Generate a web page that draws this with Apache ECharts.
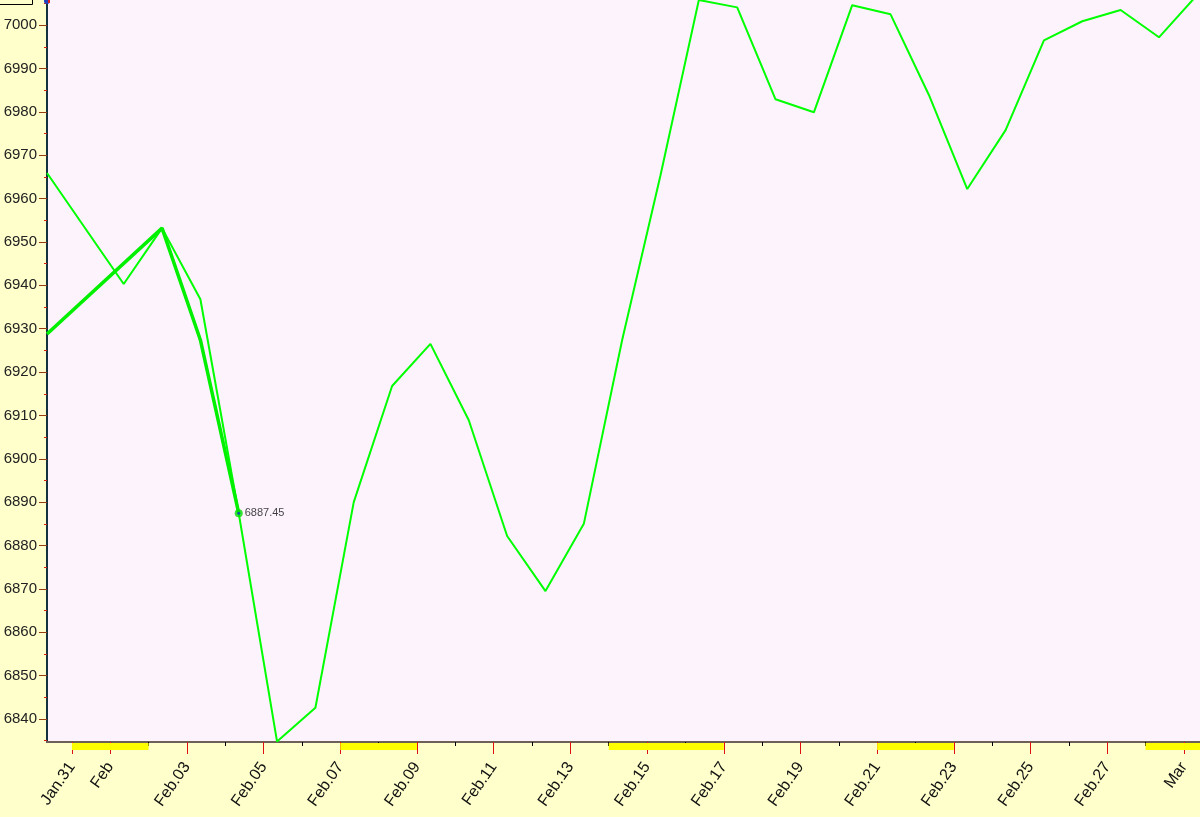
<!DOCTYPE html>
<html><head><meta charset="utf-8">
<script src="https://cdn.jsdelivr.net/npm/echarts@6/dist/echarts.min.js"></script>
<style>html,body{margin:0;padding:0;background:#FFFFCC;}#c{width:1200px;height:817px;}</style>
</head><body><div id="c"></div>
<script>
// x in days since Jan.31 00:00
const pointDays = [-0.65, 0.35, 1.35, 2.35, 3.35, 4.35, 5.35, 6.35, 7.35, 8.35, 9.35, 10.35, 11.35, 12.35, 13.35, 14.35, 15.35, 16.35, 17.35, 18.35, 19.35, 20.35, 21.35, 22.35, 23.35, 24.35, 25.35, 26.35, 27.35, 28.35, 29.35];
const mainValues = [6965.9, 6953.1, 6940.3, 6953.2, 6936.8, 6887.45, 6834.8, 6842.6, 6890.0, 6916.8, 6926.5, 6908.9, 6882.2, 6869.5, 6885.0, 6927.4, 6965.4, 7005.8, 7004.1, 6982.9, 6979.9, 7004.6, 7002.5, 6983.9, 6962.2, 6975.8, 6996.5, 7000.9, 7003.5, 6997.2, 7007.0];
const thickDays = [-0.65, 2.35, 3.35, 4.35];
const thickValues = [6928.8, 6953.2, 6927.4, 6887.45];
const markedDay = 4.35;
const markedValue = 6887.45;
const labelDays = [0, 1, 3, 5, 7, 9, 11, 13, 15, 17, 19, 21, 23, 25, 27, 29];
const tickLabels = ['Jan.31', 'Feb', 'Feb.03', 'Feb.05', 'Feb.07', 'Feb.09', 'Feb.11', 'Feb.13', 'Feb.15', 'Feb.17', 'Feb.19', 'Feb.21', 'Feb.23', 'Feb.25', 'Feb.27', 'Mar'];
const minorDays = [2, 4, 6, 8, 10, 12, 14, 16, 18, 20, 22, 24, 26, 28];
const weekendStart = [0, 7, 14, 21, 28];
const weekendEnd = [2, 9, 17, 23, 29.42];
const yLabels = [6840, 6850, 6860, 6870, 6880, 6890, 6900, 6910, 6920, 6930, 6940, 6950, 6960, 6970, 6980, 6990, 7000];
const yMinorTicks = [6835, 6845, 6855, 6865, 6875, 6885, 6895, 6905, 6915, 6925, 6935, 6945, 6955, 6965, 6975, 6985, 6995, 7005];
const X_MIN = -0.65, X_MAX = 29.42, Y_MIN = 6834.7, Y_MAX = 7005.8;

const chart = echarts.init(document.getElementById('c'), null, {renderer: 'canvas'});
const labelMap = {};
labelDays.forEach((d, i) => labelMap[d] = tickLabels[i]);
const font = 'Liberation Sans, Arial, sans-serif';

chart.setOption({
  animation: false,
  backgroundColor: '#FFFFCC',
  grid: {left: 47, right: 0, top: 0, bottom: 75, show: true, backgroundColor: '#FCF3FC', borderWidth: 0,
    containLabel: false, outerBoundsMode: 'none'},
  xAxis: [{
    type: 'value', min: X_MIN, max: X_MAX, position: 'bottom',
    axisLine: {show: true, onZero: false, lineStyle: {color: '#6e6058', width: 2}},
    axisTick: {show: true, length: 12, customValues: labelDays, lineStyle: {color: '#e01010', width: 1}},
    axisLabel: {customValues: labelDays, rotate: 55, margin: 22, fontSize: 16, color: '#111', fontFamily: font,
      padding: [12, 0, 0, 0], hideOverlap: false, formatter: v => labelMap[v] || ''},
    splitLine: {show: false}
  }, {
    type: 'value', min: X_MIN, max: X_MAX, position: 'bottom', gridIndex: 0,
    axisLine: {show: false, onZero: false},
    axisTick: {show: true, length: 4, customValues: minorDays, lineStyle: {color: '#000', width: 1}},
    axisLabel: {show: false},
    splitLine: {show: false}
  }],
  yAxis: [{
    type: 'value', min: Y_MIN, max: Y_MAX, position: 'left',
    axisLine: {show: true, onZero: false, lineStyle: {color: '#14323e', width: 2}},
    axisTick: {show: true, length: 8, customValues: yLabels, lineStyle: {color: '#9a3a10', width: 1}},
    axisLabel: {customValues: yLabels, margin: 10, fontSize: 15, color: '#222', fontFamily: font,
      formatter: v => String(v)},
    splitLine: {show: false}
  }, {
    type: 'value', min: Y_MIN, max: Y_MAX, position: 'left',
    axisLine: {show: false, onZero: false},
    axisTick: {show: true, length: 3, customValues: yMinorTicks, lineStyle: {color: '#d02010', width: 1}},
    axisLabel: {show: false},
    splitLine: {show: false}
  }],
  series: [{
    type: 'custom', xAxisIndex: 0, yAxisIndex: 0, clip: false, silent: true, z: 1,
    encode: {x: [0, 1], y: 2},
    data: weekendStart.map((s, i) => [s, weekendEnd[i], Y_MIN]),
    renderItem: (params, api) => {
      const p1 = api.coord([api.value(0), api.value(2)]);
      const p2 = api.coord([api.value(1), api.value(2)]);
      return {type: 'rect', shape: {x: p1[0], y: p1[1] + 1, width: p2[0] - p1[0], height: 7}, style: {fill: '#FFFF00'}};
    }
  }, {
    type: 'line', xAxisIndex: 0, yAxisIndex: 0, showSymbol: false, symbol: 'none',
    lineStyle: {color: '#00FF00', width: 2},
    data: pointDays.map((d, i) => [d, mainValues[i]])
  }, {
    type: 'line', xAxisIndex: 0, yAxisIndex: 0, showSymbol: false, symbol: 'none',
    lineStyle: {color: '#00F000', width: 3.5},
    data: thickDays.map((d, i) => [d, thickValues[i]])
  }, {
    type: 'scatter', xAxisIndex: 0, yAxisIndex: 0, symbolSize: 8, z: 5,
    itemStyle: {color: '#00E000'},
    label: {show: true, position: 'right', distance: 2, fontSize: 11, color: '#111', fontFamily: font,
      formatter: p => p.value[1].toFixed(2)},
    data: [[markedDay, markedValue]]
  }, {
    type: 'scatter', xAxisIndex: 0, yAxisIndex: 0, symbolSize: 3, z: 6,
    itemStyle: {color: '#1030d0'},
    data: [[markedDay, markedValue]]
  }],
  graphic: [
    {type: 'rect', left: -6, top: -20, shape: {width: 38, height: 24}, style: {fill: '#FFFFCC', stroke: '#000', lineWidth: 1}, z: 10},
    {type: 'circle', shape: {cx: 47, cy: 1, r: 3}, style: {fill: '#2040c0'}, z: 10},
    {type: 'rect', shape: {x: 48, y: 0, width: 2, height: 3}, style: {fill: '#e02020'}, z: 11}
  ]
});
</script>
</body></html>
